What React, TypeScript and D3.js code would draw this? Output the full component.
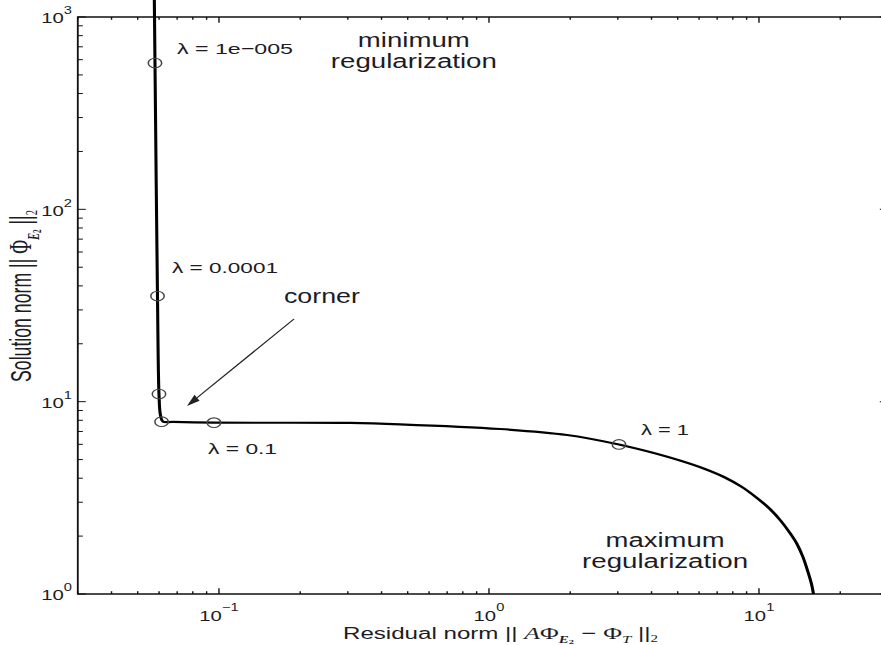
import React from 'react';
import * as d3 from 'd3';

// ---------- data ----------
// L-curve samples: residual norm vs. solution norm
const residualNorm = [
  0.0576, 0.05794, 0.05919, 0.05995, 0.0607, 0.062, 0.0675, 0.0958, 0.3055, 0.468,
  1.098, 1.945, 3.03, 3.947, 5.097, 6.31, 7.482, 8.65, 9.831, 10.98,
  12.06, 13.02, 13.83, 14.55, 15.19, 15.65, 15.92,
];
const solutionNorm = [
  1300, 576, 35.4, 10.96, 8.52, 7.88, 7.85, 7.78, 7.75, 7.625,
  7.21, 6.71, 5.99, 5.474, 4.944, 4.467, 4.035, 3.6, 3.156, 2.766,
  2.397, 2.076, 1.82, 1.557, 1.301, 1.127, 1.0,
];

// regularization parameters marked on the curve
const markerLambda = [1e-5, 1e-4, 1e-3, 1e-2, 1e-1, 1];
const markerResidual = [0.05794, 0.05919, 0.05995, 0.0613, 0.0958, 3.03];
const markerSolution = [576, 35.4, 10.96, 7.87, 7.78, 5.99];

const lambdaLabels = ['λ = 1e−005', 'λ = 0.0001', 'λ = 0.1', 'λ = 1'];

const xDomain: [number, number] = [0.03, 30];
const yDomain: [number, number] = [1, 1000];
const xMajorTicks = [0.1, 1, 10];
const xMajorExponents = ['−1', '0', '1'];
const yMajorTicks = [1, 10, 100, 1000];
const yMajorExponents = ['0', '1', '2', '3'];

// ---------- layout ----------
const WIDTH = 881;
const HEIGHT = 645;
const SX = 1.4; // horizontal stretch of the whole figure
const PLOT_LEFT = 77.8;
const PLOT_RIGHT = 887.8;
const PLOT_TOP = 17;
const PLOT_BOTTOM = 594;

// label anchors in data coordinates, with rendered widths in px
const lambdaLabelAt: [number, number][] = [
  [0.0699, 642],
  [0.067, 46.7],
  [0.0911, 5.35],
  [3.656, 6.71],
];
const lambdaLabelWidth = [116, 106, 69, 48];

const FONT = '"Liberation Sans", Arial, Helvetica, sans-serif';
const SERIF = '"Liberation Serif", "Times New Roman", serif';
const INK = '#1c1c24';

export default function App() {
  const x = d3.scaleLog().domain(xDomain).range([PLOT_LEFT / SX, PLOT_RIGHT / SX]);
  const y = d3.scaleLog().domain(yDomain).range([PLOT_BOTTOM, PLOT_TOP]);

  const pts: [number, number][] = residualNorm.map((r, i) => [r, solutionNorm[i]]);
  const line = d3
    .line<[number, number]>()
    .x((d) => x(d[0]))
    .y((d) => y(d[1]))
    .curve(d3.curveCatmullRom.alpha(0.5));

  const xMinor = x.ticks();
  const yMinor = y.ticks();
  const left = x.range()[0];
  const right = x.range()[1];

  // corner arrow (data coordinates)
  const arrowTail: [number, number] = [0.1896, 26.9];
  const arrowHead: [number, number] = [0.0761, 9.5];
  const tx = x(arrowTail[0]) * SX, ty = y(arrowTail[1]);
  const hx = x(arrowHead[0]) * SX, hy = y(arrowHead[1]);
  const len = Math.hypot(hx - tx, hy - ty);
  const ux = (hx - tx) / len, uy = (hy - ty) / len;
  const headLen = 13, headHalf = 4;
  const bx = hx - ux * headLen, by = hy - uy * headLen;
  const head = [
    [hx, hy],
    [bx - uy * headHalf, by + ux * headHalf],
    [bx + uy * headHalf, by - ux * headHalf],
  ]
    .map(([px, py]) => `${px / SX},${py}`)
    .join(' ');

  const minAt: [number, number] = [0.527, 701];
  const maxAt: [number, number] = [4.49, 1.762];
  const cornerAt: [number, number] = [0.2407, 32.6];
  const lead = 21.8;

  return (
    <svg
      width={WIDTH}
      height={HEIGHT}
      style={{ position: 'absolute', left: 0, top: 0, background: '#fff' }}
      fontFamily={FONT}
    >
      <rect width={WIDTH} height={HEIGHT} fill="#fff" />
      <g transform={`scale(${SX},1)`}>
        {/* axes box */}
        <path
          d={`M${left},${PLOT_TOP}H${right}V${PLOT_BOTTOM}H${left}Z`}
          fill="none"
          stroke="#111"
          strokeWidth={1.3}
        />
        {/* x ticks, bottom and top */}
        {xMinor.map((v, i) => {
          const major = xMajorTicks.some((m) => Math.abs(m - v) / m < 1e-6);
          const l = major ? 5.7 : 2.8;
          return (
            <g key={'xt' + i} stroke="#111" strokeWidth={1}>
              <line x1={x(v)} x2={x(v)} y1={PLOT_BOTTOM} y2={PLOT_BOTTOM - l} />
              <line x1={x(v)} x2={x(v)} y1={PLOT_TOP} y2={PLOT_TOP + l} />
            </g>
          );
        })}
        {/* y ticks, left and right */}
        {yMinor.map((v, i) => {
          const major = yMajorTicks.some((m) => Math.abs(m - v) / m < 1e-6);
          const l = major ? 5.7 : 3.6;
          return (
            <g key={'yt' + i} stroke="#111" strokeWidth={1}>
              <line x1={left} x2={left + l} y1={y(v)} y2={y(v)} />
              <line x1={right} x2={right - l} y1={y(v)} y2={y(v)} />
            </g>
          );
        })}
        {/* tick labels */}
        {xMajorTicks.map((v, i) => (
          <text key={'xl' + i} x={x(v)} y={620.7} textAnchor="middle" fontSize={14.5} fill={INK}>
            10
            <tspan dy={-10} fontSize={10.5}>
              {xMajorExponents[i]}
            </tspan>
          </text>
        ))}
        {yMajorTicks.map((v, i) => (
          <text key={'yl' + i} x={72 / SX} y={y(v) + 6.5} textAnchor="end" fontSize={14.5} fill={INK}>
            10
            <tspan dy={-9} fontSize={10.5}>
              {yMajorExponents[i]}
            </tspan>
          </text>
        ))}

        {/* L-curve */}
        <path d={line(pts) ?? ''} fill="none" stroke="#000" strokeWidth={2.2} strokeLinejoin="round" />
        {markerLambda.map((lam, i) => (
          <circle
            key={'m' + lam}
            cx={x(markerResidual[i])}
            cy={y(markerSolution[i])}
            r={4.8}
            fill="none"
            stroke="#444"
            strokeWidth={1.1}
          />
        ))}

        {/* lambda labels */}
        {lambdaLabels.map((t, i) => (
          <text
            key={'lam' + i}
            x={x(lambdaLabelAt[i][0])}
            y={y(lambdaLabelAt[i][1])}
            fontSize={15.5}
            fill={INK}
            textLength={lambdaLabelWidth[i] / SX}
            lengthAdjust="spacingAndGlyphs"
          >
            {t}
          </text>
        ))}

        {/* region annotations */}
        <g fontSize={19.5} fill={INK} textAnchor="middle">
          <text x={x(minAt[0])} y={y(minAt[1])}>
            <tspan textLength={112 / SX} lengthAdjust="spacingAndGlyphs">minimum</tspan>
            <tspan x={x(minAt[0])} dy={lead} textLength={166 / SX} lengthAdjust="spacingAndGlyphs">
              regularization
            </tspan>
          </text>
          <text x={x(maxAt[0])} y={y(maxAt[1])}>
            <tspan textLength={119 / SX} lengthAdjust="spacingAndGlyphs">maximum</tspan>
            <tspan x={x(maxAt[0])} dy={lead} textLength={166 / SX} lengthAdjust="spacingAndGlyphs">
              regularization
            </tspan>
          </text>
          <text
            x={x(cornerAt[0])}
            y={y(cornerAt[1])}
            fontSize={21}
            textLength={76 / SX}
            lengthAdjust="spacingAndGlyphs"
          >
            corner
          </text>
        </g>

        {/* arrow pointing at the corner */}
        <line x1={tx / SX} y1={ty} x2={bx / SX} y2={by} stroke="#222" strokeWidth={1.1} />
        <polygon points={head} fill="#222" />

        {/* x axis label */}
        <text
          x={343 / SX}
          y={639}
          fontSize={16}
          fill={INK}
          textLength={315 / SX}
          lengthAdjust="spacingAndGlyphs"
        >
          {'Residual norm  || '}
          <tspan fontFamily={SERIF} fontStyle="italic" fontSize={17}>A</tspan>
          <tspan fontFamily={SERIF} fontSize={17}>Φ</tspan>
          <tspan fontFamily={SERIF} fontStyle="italic" fontWeight="bold" fontSize={10} dy={4}>E</tspan>
          <tspan fontFamily={SERIF} fontWeight="bold" fontSize={7} dy={1}>2</tspan>
          <tspan fontSize={17} dy={-5}>{' − '}</tspan>
          <tspan fontFamily={SERIF} fontSize={17}>Φ</tspan>
          <tspan fontFamily={SERIF} fontStyle="italic" fontSize={11} dy={4}>T</tspan>
          <tspan dy={-4}>{'  ||'}</tspan>
          <tspan fontFamily={SERIF} fontSize={10} dy={3}>2</tspan>
        </text>

        {/* y axis label */}
        <g transform={`translate(${31 / SX},${382}) scale(1.4,1) rotate(-90)`}>
          <text x={0} y={0} fontSize={15} fill={INK} textLength={172} lengthAdjust="spacingAndGlyphs">
            {'Solution norm  || '}
            <tspan fontFamily={SERIF} fontSize={16}>Φ</tspan>
            <tspan fontFamily={SERIF} fontStyle="italic" fontWeight="bold" fontSize={9} dy={4}>E</tspan>
            <tspan fontFamily={SERIF} fontWeight="bold" fontSize={6} dy={1}>2</tspan>
            <tspan dy={-5}>{'  ||'}</tspan>
            <tspan fontFamily={SERIF} fontSize={9} dy={3}>2</tspan>
          </text>
        </g>
      </g>
    </svg>
  );
}
